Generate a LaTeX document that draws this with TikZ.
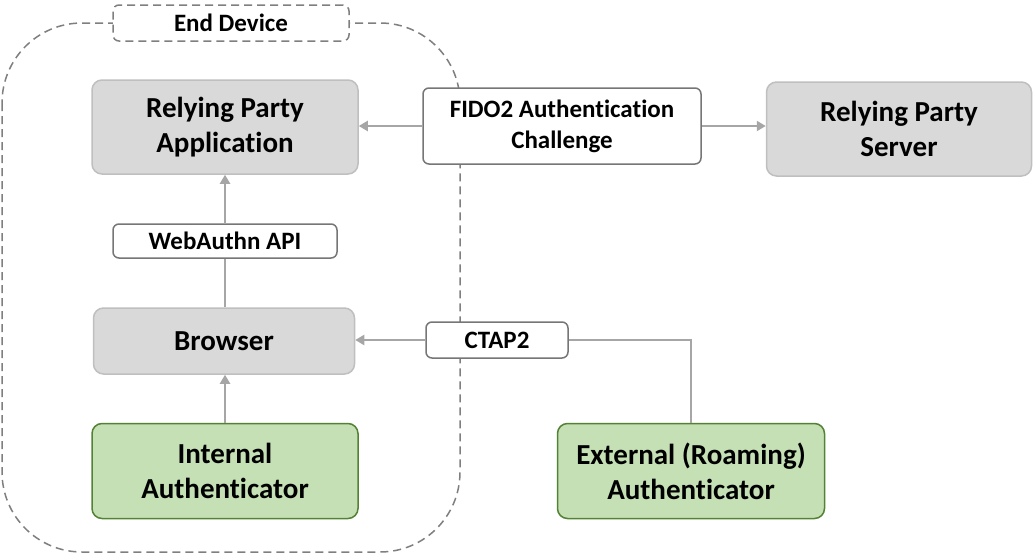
\documentclass[tikz,border=0pt]{standalone}
\usepackage{fontspec}
\setmainfont[Ligatures=NoCommon]{Carlito}
\usetikzlibrary{arrows.meta}
\definecolor{boxgray}{HTML}{D9D9D9}
\definecolor{boxgrayline}{HTML}{BFBFBF}
\definecolor{boxgreen}{HTML}{C5E0B4}
\definecolor{boxgreenline}{HTML}{548235}
\definecolor{arrowgray}{HTML}{A6A6A6}
\definecolor{labelline}{HTML}{767676}
\definecolor{dashgray}{HTML}{7F7F7F}
\begin{document}
\begin{tikzpicture}[x=1pt,y=-1pt,
  base/.style={rounded corners=10pt, line width=1.5pt, align=center, inner sep=0pt},
  graybox/.style={base, fill=boxgray, draw=boxgrayline, font=\fontsize{29}{35}\selectfont\bfseries},
  greenbox/.style={base, fill=boxgreen, draw=boxgreenline, font=\fontsize{29}{35}\selectfont\bfseries},
  labelbox/.style={base, fill=white, draw=labelline, rounded corners=6pt, font=\fontsize{25}{31}\selectfont\bfseries},
  conn/.style={draw=arrowgray, line width=2.5pt},
  arr/.style={conn, -{Triangle[width=10pt,length=9pt]}},
  dashbox/.style={draw=dashgray, line width=1.5pt, dash pattern=on 8pt off 5pt}
]
\useasboundingbox (0,0) rectangle (1033,554);
% outer End Device region
\draw[dashbox, rounded corners=80pt] (2,23) rectangle (460,552);
% nodes
\node[graybox, minimum width=266pt, minimum height=94pt] (rpa) at (225,127) {Relying Party\\Application};
\node[graybox, minimum width=265pt, minimum height=94pt] (rps) at (899,129) {Relying Party\\Server};
\node[labelbox, minimum width=278pt, minimum height=76pt] (fido) at (562,126) {FIDO2 Authentication\\Challenge};
\node[labelbox, minimum width=224pt, minimum height=34pt] (web) at (225,241) {WebAuthn API};
\node[graybox, minimum width=261pt, minimum height=66pt] (browser) at (224,341) {Browser};
\node[labelbox, minimum width=142pt, minimum height=36pt] (ctap) at (497,340) {CTAP2};
\node[greenbox, minimum width=266pt, minimum height=95pt] (intauth) at (225,471) {Internal\\Authenticator};
\node[greenbox, minimum width=267pt, minimum height=95pt] (extauth) at (691,471) {External (Roaming)\\Authenticator};
\node[labelbox, dashbox, rounded corners=6pt, minimum width=236pt, minimum height=36pt] (enddev) at (231,23) {End Device};
% connectors
\draw[arr] (fido.west) -- (rpa.east |- fido.west);
\draw[arr] (fido.east) -- (rps.west |- fido.east);
\draw[conn] (browser.north -| web.south) -- (web.south);
\draw[arr] (web.north) -- (rpa.south -| web.north);
\draw[arr] (intauth.north) -- (browser.south -| intauth.north);
\draw[arr] (ctap.west) -- (browser.east |- ctap.west);
\draw[conn] (extauth.north) |- (ctap.east);
\end{tikzpicture}
\end{document}
